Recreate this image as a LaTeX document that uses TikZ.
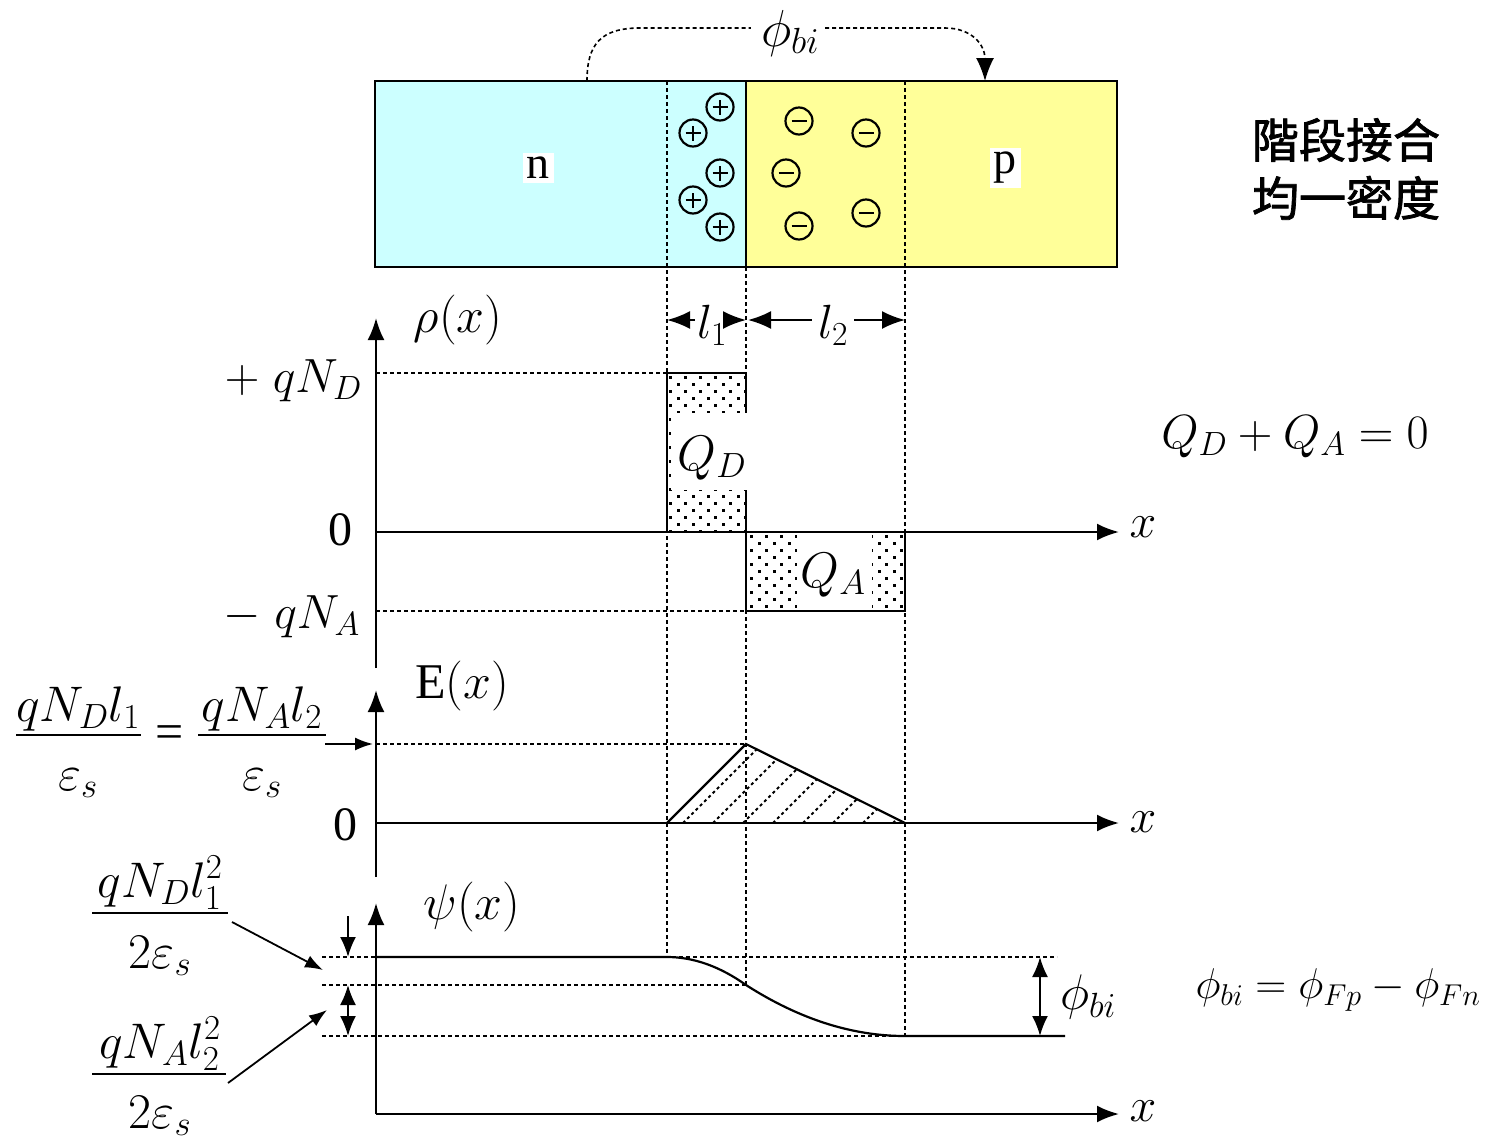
\RequirePackage{fix-cm}
\documentclass[tikz,border=0pt]{standalone}
\usepackage{amsmath}
\usepackage{fontspec}
\setmainfont{Liberation Serif}
\newfontfamily\cjk[FakeBold=1.6]{Noto Sans CJK TC}
\usetikzlibrary{arrows.meta,calc}
\definecolor{ncol}{HTML}{CCFFFF}
\definecolor{pcol}{HTML}{FFFF99}
\begin{document}
\begin{tikzpicture}[x=1pt,y=-1pt,
  dsh/.style={line width=1.6pt, dash pattern=on 4pt off 3pt},
  axisline/.style={line width=2.4pt},
  bigtip/.style={-{Latex[length=22pt,width=17pt]}},
  midtip/.style={-{Latex[length=20pt,width=16pt]}},
  dimtip/.style={-{Latex[length=23pt,width=18pt]}},
  smalltip/.style={-{Latex[length=18pt,width=13pt]}},
  lbl/.style={inner sep=0pt, font=\fontsize{48}{56}\selectfont},
  biglbl/.style={inner sep=0pt, font=\fontsize{50}{58}\selectfont},
  fraclbl/.style={inner sep=0pt, font=\fontsize{50}{58}\selectfont},
  fbar/.style={line width=2pt},
  ion/.style={circle, draw, line width=2.2pt, minimum size=27pt, inner sep=0pt},
  pluss/.style={ion, path picture={\draw[line width=2.4pt] ([xshift=-7.5pt]path picture bounding box.center) -- ([xshift=7.5pt]path picture bounding box.center); \draw[line width=2.4pt] ([yshift=-7.5pt]path picture bounding box.center) -- ([yshift=7.5pt]path picture bounding box.center);}},
  minuss/.style={ion, path picture={\draw[line width=2.4pt] ([xshift=-7.5pt]path picture bounding box.center) -- ([xshift=7.5pt]path picture bounding box.center);}},
]
\useasboundingbox[fill=white] (0,0) rectangle (1486,1141);

% ---------- top bar ----------
\fill[ncol] (375,81) rectangle (746,267);
\fill[pcol] (746,81) rectangle (1117,267);
\draw[dsh] (667,81) -- (667,957);
\draw[dsh] (746,267) -- (746,985);
\draw[dsh] (905,81) -- (905,1036);
\draw[axisline] (375,81) rectangle (1117,267);
\draw[axisline] (746,81) -- (746,267);

\node[fill=white, inner sep=4pt, font=\fontsize{46}{52}\selectfont] (nlab) at (538,168) {n};
\node[fill=white, inner sep=4pt, font=\fontsize{46}{52}\selectfont] (plab) at (1005,168) {p};

\node[pluss] (p1) at (720,107) {};
\node[pluss] (p2) at (693,133) {};
\node[pluss] (p3) at (720,173) {};
\node[pluss] (p4) at (693,200) {};
\node[pluss] (p5) at (720,227) {};
\node[minuss] (m1) at (799,121) {};
\node[minuss] (m2) at (866,133) {};
\node[minuss] (m3) at (786,173) {};
\node[minuss] (m4) at (799,226) {};
\node[minuss] (m5) at (866,213) {};

\node[inner sep=0pt, font=\fontsize{52}{60}\selectfont] (phitop) at (790,33) {$\phi_{bi}$};
\coordinate (cs) at (587,81);
\coordinate (ce) at (985,81);
\draw[dsh] (cs) .. controls (587,45) and (600,28) .. (640,28) -- ([xshift=-10pt]phitop.west |- 0,28);
\draw[dsh, dimtip] ([xshift=6pt]phitop.east |- 0,28) -- (945,28) .. controls (972,28) and (985,45) .. (ce);

\node[inner sep=0pt, font=\cjk\fontsize{47}{58}\selectfont, align=center] (title) at (1346,169) {階段接合\\均一密度};

% ---------- rho(x) ----------
\coordinate (r0) at (376,668);
\coordinate (rtop) at (376,318);
\coordinate (rx0) at (376,532);
\coordinate (rxe) at (1119,532);
\begin{scope}
  \clip (667,373) rectangle (746,532);
  \foreach \r in {0,...,23} \foreach \c in {0,...,5}
    \fill ({667+2+\c*15+mod(\r,2)*7.5},{373+3+\r*7}) rectangle ++(3,3);
\end{scope}
\begin{scope}
  \clip (746,532) rectangle (905,611);
  \foreach \r in {0,...,12} \foreach \c in {0,...,11}
    \fill ({746+4+\c*15+mod(\r,2)*7.5},{532+3+\r*7}) rectangle ++(3,3);
\end{scope}
\draw[axisline] (667,373) rectangle (746,532);
\draw[axisline] (746,532) rectangle (905,611);
\fill[white] (671,413) rectangle (751,490);
\draw[axisline] (667,373) -- (667,532);
\fill[white] (797,534) rectangle (872,609);
\node[biglbl] (QD) at (712,458) {$Q_D$};
\node[biglbl] (QA) at (833,575) {$Q_A$};

\draw[dsh] (376,373) -- (667,373);
\draw[dsh] (376,611) -- (746,611);
\draw[axisline, bigtip] (r0) -- (rtop);
\draw[axisline, bigtip] (rx0) -- (rxe);
\node[biglbl] (rholab) at (458,320) {$\rho(x)$};
\node[lbl, anchor=east] (qnd) at (362,381) {$+\;qN_D$};
\node[lbl] (zr) at (340,530) {0};
\node[lbl, anchor=east] (qna) at (360,617) {$-\;qN_A$};
\node[lbl] (x1) at (1143,527) {$x$};

% l1, l2
\node[lbl] (l1) at (712,325) {$l_1$};
\node[lbl] (l2) at (833,325) {$l_2$};
\coordinate (la) at (667,320);
\coordinate (lb) at (746,320);
\coordinate (lc) at (905,320);
\draw[line width=2pt, dimtip] ([xshift=-2pt]l1.west |- la) -- (la);
\draw[line width=2pt, dimtip] ([xshift=2pt]l1.east |- la) -- (lb);
\draw[line width=2pt, dimtip] ([xshift=-6pt]l2.west |- la) -- ([xshift=2pt]lb);
\draw[line width=2pt, dimtip] ([xshift=6pt]l2.east |- la) -- (lc);

% ---------- E(x) ----------
\coordinate (e0) at (376,877);
\coordinate (etop) at (376,690);
\coordinate (ex0) at (376,823);
\coordinate (exe) at (1119,823);
\begin{scope}
  \clip (667,823) -- (746,744) -- (905,823) -- cycle;
  \foreach \b in {683,713,...,893}
    \draw[line width=2pt, dash pattern=on 3pt off 3pt] (\b,823) -- ++(110,-110);
\end{scope}
\draw[line width=2.2pt] (667,823) -- (746,744) -- (905,823);
\draw[dsh] (376,744) -- (746,744);
\draw[axisline, bigtip] (e0) -- (etop);
\draw[axisline, bigtip] (ex0) -- (exe);
\node[biglbl] (elab) at (462,686) {E$(x)$};
\node[lbl] (ze) at (345,825) {0};
\node[lbl] (x2) at (1143,822) {$x$};

% E fraction
\coordinate (eb1a) at (16,735);
\coordinate (eb1b) at (141,735);
\coordinate (eb2a) at (198,735);
\coordinate (eb2b) at (326,735);
\draw[fbar] (eb1a) -- (eb1b);
\draw[fbar] (eb2a) -- (eb2b);
\node[fraclbl, anchor=base] (en1) at (78,721) {$qN_Dl_1$};
\node[fraclbl, anchor=base] (ed1) at (78,790) {$\varepsilon_s$};
\node[fraclbl] (eeq) at (170,737) {=};
\node[fraclbl, anchor=base] (en2) at (262,721) {$qN_Al_2$};
\node[fraclbl, anchor=base] (ed2) at (262,790) {$\varepsilon_s$};
\coordinate (ea) at (325,744);
\coordinate (eb) at (373,744);
\draw[line width=1.8pt, smalltip] (ea) -- (eb);

% ---------- psi(x) ----------
\coordinate (ptop) at (376,903);
\coordinate (pcorner) at (376,1114);
\coordinate (pxe) at (1119,1114);
\draw[axisline, bigtip] (pcorner) -- (ptop);
\draw[axisline, bigtip] (pcorner) -- (pxe);
\draw[dsh] (322,957) -- (1057,957);
\draw[dsh] (322,985) -- (746,985);
\draw[dsh] (322,1036) -- (905,1036);
\draw[line width=2.2pt] (376,957) -- (667,957) .. controls (693.3,957) and (719.7,966.3) .. (746,985)
   .. controls (799,1019) and (852,1036) .. (905,1036) -- (1065,1036);
\node[biglbl] (psilab) at (472,907) {$\psi(x)$};
\node[lbl] (x3) at (1143,1111) {$x$};

\coordinate (pb1) at (1040,957);
\coordinate (pb2) at (1040,1036);
\draw[line width=2pt, midtip] ($(pb1)!0.5!(pb2)$) -- (pb1);
\draw[line width=2pt, midtip] ($(pb1)!0.5!(pb2)$) -- (pb2);
\node[biglbl] (phib) at (1088,997) {$\phi_{bi}$};
\node[inner sep=0pt, font=\fontsize{43}{50}\selectfont] (phieq) at (1338,990) {$\phi_{bi}=\phi_{Fp}-\phi_{Fn}$};
\node[lbl] (qeq) at (1295,437) {$Q_D+Q_A=0$};

\coordinate (sa) at (348,916);
\coordinate (sb) at (348,957);
\draw[line width=2pt, midtip] (sa) -- (sb);
\coordinate (sc) at (348,985);
\coordinate (sd) at (348,1036);
\coordinate (sm) at (348,1010);
\draw[line width=2pt, midtip] (sm) -- (sc);
\draw[line width=2pt, midtip] (sm) -- (sd);

% psi fractions
\coordinate (pf1a) at (92,913);
\coordinate (pf1b) at (228,913);
\coordinate (pf2a) at (92,1074);
\coordinate (pf2b) at (226,1074);
\draw[fbar] (pf1a) -- (pf1b);
\draw[fbar] (pf2a) -- (pf2b);
\node[fraclbl, anchor=base] (pn1) at (160,897) {$qN_Dl_1^2$};
\node[fraclbl, anchor=base] (pd1) at (160,968) {$2\varepsilon_s$};
\node[fraclbl, anchor=base] (pn2) at (160,1058) {$qN_Al_2^2$};
\node[fraclbl, anchor=base] (pd2) at (160,1128) {$2\varepsilon_s$};
\coordinate (fa1) at (232,922);
\coordinate (fb1) at (323,970);
\coordinate (fa2) at (228,1083);
\coordinate (fb2) at (327,1010);
\draw[line width=1.8pt, smalltip] (fa1) -- (fb1);
\draw[line width=1.8pt, smalltip] (fa2) -- (fb2);
\end{tikzpicture}
\end{document}
